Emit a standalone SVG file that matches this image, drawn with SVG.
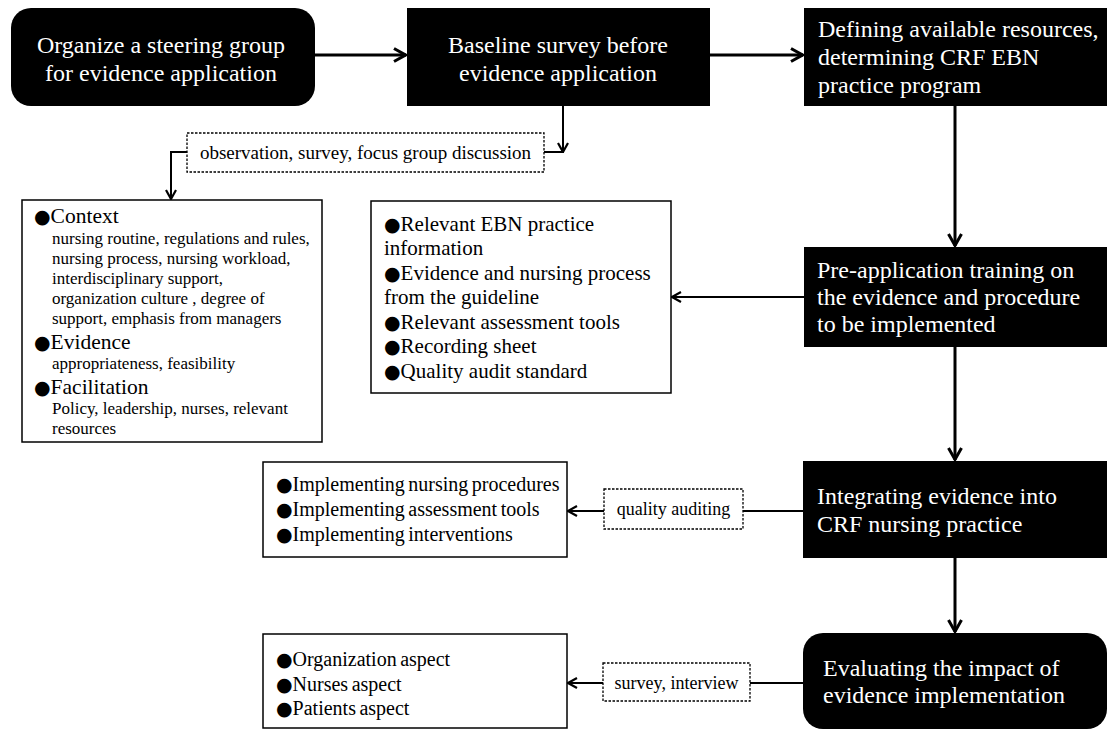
<svg xmlns="http://www.w3.org/2000/svg" width="1113" height="730" viewBox="0 0 1113 730">
<defs>
<marker id="ah" viewBox="0 0 12 12" refX="11" refY="6" markerWidth="12" markerHeight="12" markerUnits="userSpaceOnUse" orient="auto">
<path d="M2,1 L11,6 L2,11" fill="none" stroke="#000" stroke-width="2.2"/>
</marker>
<marker id="ahb" viewBox="0 0 16 16" refX="15" refY="8" markerWidth="16" markerHeight="16" markerUnits="userSpaceOnUse" orient="auto">
<path d="M3,1.5 L14.5,8 L3,14.5" fill="none" stroke="#000" stroke-width="3"/>
</marker>
</defs>
<style>
.blk{fill:#000;}
.box{fill:#fff;stroke:#000;stroke-width:1.5;}
.dash{fill:#fff;stroke:#000;stroke-width:1.3;stroke-dasharray:2.5,1.5;}
text{font-family:"Liberation Serif","Times New Roman",serif;}
.wt{fill:#fff;font-size:24px;}
.lt{fill:#000;font-size:21px;}
.it{fill:#000;font-size:20px;word-spacing:-1.5px;}
.ht{fill:#000;font-size:21.5px;}
.st{fill:#000;font-size:17px;}
.dt{fill:#000;font-size:18px;}
.b{font-family:"DejaVu Sans",sans-serif;font-size:19px;}
.main{fill:none;stroke:#000;stroke-width:3;}
.side{fill:none;stroke:#000;stroke-width:2;}
</style>
<rect width="1113" height="730" fill="#fff"/>
<g id="connectors">
<line class="main" x1="315" y1="55" x2="406" y2="55" marker-end="url(#ahb)"/>
<line class="main" x1="710" y1="55" x2="803" y2="55" marker-end="url(#ahb)"/>
<line class="main" x1="955" y1="106" x2="955" y2="246" marker-end="url(#ahb)"/>
<line class="main" x1="955" y1="347" x2="955" y2="460" marker-end="url(#ahb)"/>
<line class="main" x1="955" y1="558" x2="955" y2="632" marker-end="url(#ahb)"/>
<line class="side" x1="563" y1="106" x2="563" y2="152" marker-end="url(#ah)"/>
<line class="side" x1="544" y1="152" x2="564" y2="152"/>
<path class="side" d="M187,152 H171 V199" marker-end="url(#ah)"/>
<line class="side" x1="804" y1="297" x2="672" y2="297" marker-end="url(#ah)"/>
<line class="side" x1="803" y1="511" x2="743" y2="511"/>
<line class="side" x1="604" y1="511" x2="568" y2="511" marker-end="url(#ah)"/>
<line class="side" x1="803" y1="683" x2="750" y2="683"/>
<line class="side" x1="603" y1="683" x2="568" y2="683" marker-end="url(#ah)"/>
</g>
<g id="n1">
<rect class="blk" x="11" y="8" width="304" height="98" rx="20"/>
<text class="wt" x="161" y="53" text-anchor="middle">Organize a steering group</text>
<text class="wt" x="161" y="81" text-anchor="middle">for evidence  application</text>
</g>
<g id="n2">
<rect class="blk" x="407" y="8" width="303" height="98"/>
<text class="wt" x="558" y="53" text-anchor="middle">Baseline survey before</text>
<text class="wt" x="558" y="81" text-anchor="middle">evidence application</text>
</g>
<g id="n3">
<rect class="blk" x="804" y="8" width="303" height="98"/>
<text class="wt" x="818" y="37">Defining available resources,</text>
<text class="wt" x="818" y="65">determining CRF EBN</text>
<text class="wt" x="818" y="93">practice program</text>
</g>
<g id="lbl1">
<rect class="dash" x="187" y="133" width="357" height="39"/>
<text class="dt" x="365.5" y="159" text-anchor="middle" style="font-size:19px">observation, survey, focus group discussion</text>
</g>
<g id="ctx">
<rect class="box" x="22" y="200" width="300" height="242"/>
<text class="ht" x="34" y="223"><tspan class="b">●</tspan>Context</text>
<text class="st" x="52" y="244">nursing routine, regulations and rules,</text>
<text class="st" x="52" y="264">nursing process, nursing workload,</text>
<text class="st" x="52" y="284">interdisciplinary support,</text>
<text class="st" x="52" y="304">organization culture , degree of</text>
<text class="st" x="52" y="324">support, emphasis from managers</text>
<text class="ht" x="34" y="349"><tspan class="b">●</tspan>Evidence</text>
<text class="st" x="52" y="369">appropriateness, feasibility</text>
<text class="ht" x="34" y="394"><tspan class="b">●</tspan>Facilitation</text>
<text class="st" x="52" y="414">Policy, leadership, nurses, relevant</text>
<text class="st" x="52" y="434">resources</text>
</g>
<g id="info">
<rect class="box" x="371" y="201" width="300" height="192"/>
<text class="lt" x="384" y="231"><tspan class="b">●</tspan>Relevant EBN practice</text>
<text class="lt" x="384" y="255">information</text>
<text class="lt" x="384" y="280"><tspan class="b">●</tspan>Evidence  and nursing process</text>
<text class="lt" x="384" y="304">from the guideline</text>
<text class="lt" x="384" y="329"><tspan class="b">●</tspan>Relevant assessment tools</text>
<text class="lt" x="384" y="353"><tspan class="b">●</tspan>Recording sheet</text>
<text class="lt" x="384" y="378"><tspan class="b">●</tspan>Quality audit standard</text>
</g>
<g id="n4">
<rect class="blk" x="804" y="247" width="303" height="100"/>
<text class="wt" x="817" y="278">Pre-application training on</text>
<text class="wt" x="817" y="305">the evidence  and procedure</text>
<text class="wt" x="817" y="332">to be implemented</text>
</g>
<g id="impl">
<rect class="box" x="263" y="462" width="304" height="95"/>
<text class="it" x="276" y="491"><tspan class="b">●</tspan>Implementing nursing procedures</text>
<text class="it" x="276" y="516"><tspan class="b">●</tspan>Implementing assessment tools</text>
<text class="it" x="276" y="541"><tspan class="b">●</tspan>Implementing interventions</text>
</g>
<g id="lbl2">
<rect class="dash" x="604" y="489" width="139" height="40"/>
<text class="dt" x="673.5" y="515" text-anchor="middle">quality auditing</text>
</g>
<g id="n5">
<rect class="blk" x="803" y="461" width="304" height="97"/>
<text class="wt" x="817" y="504">Integrating evidence  into</text>
<text class="wt" x="817" y="532">CRF nursing practice</text>
</g>
<g id="aspects">
<rect class="box" x="263" y="634" width="304" height="94"/>
<text class="it" x="276" y="666"><tspan class="b">●</tspan>Organization aspect</text>
<text class="it" x="276" y="691"><tspan class="b">●</tspan>Nurses aspect</text>
<text class="it" x="276" y="715"><tspan class="b">●</tspan>Patients aspect</text>
</g>
<g id="lbl3">
<rect class="dash" x="603" y="663" width="147" height="38"/>
<text class="dt" x="676.5" y="689" text-anchor="middle">survey, interview</text>
</g>
<g id="n6">
<rect class="blk" x="803" y="633" width="304" height="96" rx="20"/>
<text class="wt" x="823" y="676">Evaluating the impact of</text>
<text class="wt" x="823" y="703">evidence implementation</text>
</g>
</svg>
